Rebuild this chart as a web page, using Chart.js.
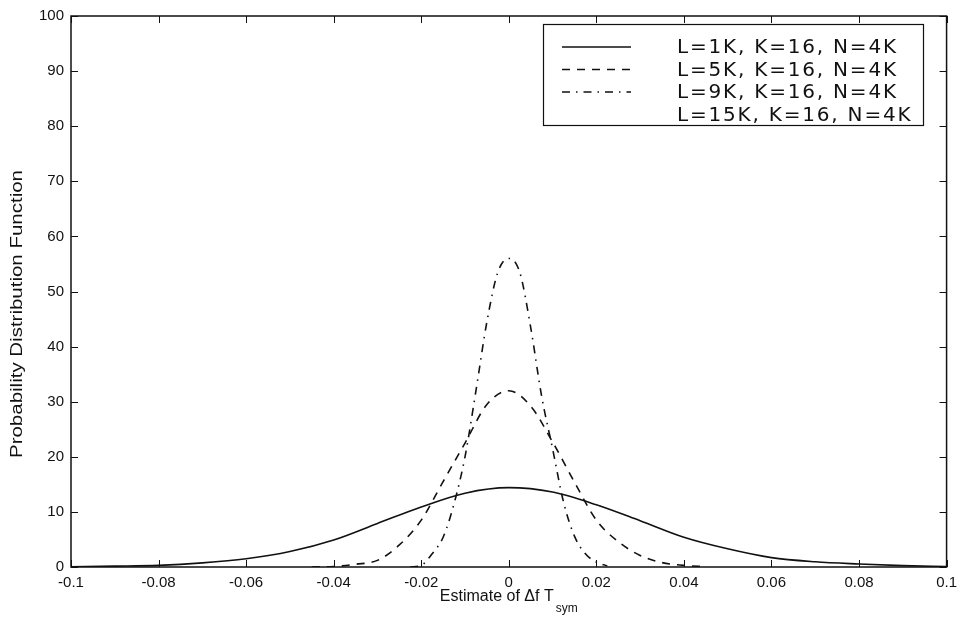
<!DOCTYPE html>
<html>
<head>
<meta charset="utf-8">
<script src="https://cdn.jsdelivr.net/npm/chart.js@4/dist/chart.umd.min.js"></script>
<style>
  html, body { margin: 0; padding: 0; background: #fff; }
  #wrap { width: 964px; height: 619px; }
</style>
</head>
<body>
<div id="wrap"><canvas id="c" width="964" height="619"></canvas></div>
<script>
// Series labels
const seriesLabels = [
  'L=1K, K=16, N=4K',
  'L=5K, K=16, N=4K',
  'L=9K, K=16, N=4K',
  'L=15K, K=16, N=4K'
];

// L=1K: estimate values and PDF
const xL1 = [-0.1, -0.09, -0.08, -0.07, -0.06, -0.05, -0.04, -0.03, -0.02, -0.01, 0,
             0.01, 0.02, 0.03, 0.04, 0.05, 0.06, 0.07, 0.08, 0.09, 0.1];
const yL1 = [0.05, 0.15, 0.3, 0.75, 1.5, 2.8, 4.9, 7.9, 10.9, 13.4, 14.4,
             13.6, 11.3, 8.4, 5.4, 3.3, 1.7, 0.95, 0.55, 0.25, 0.1];

// L=5K
const xL5 = [-0.045, -0.04, -0.035, -0.03, -0.025, -0.02, -0.015, -0.01, -0.005, 0,
             0.005, 0.01, 0.015, 0.02, 0.025, 0.03, 0.035, 0.04, 0.045];
const yL5 = [0.0, 0.1, 0.5, 1.2, 4.0, 8.5, 15.5, 22.5, 29.5, 32.0,
             29.2, 22.7, 15.4, 8.5, 4.6, 2.1, 0.8, 0.3, 0.05];

// L=9K
const xL9 = [-0.0225, -0.02, -0.0175, -0.015, -0.0125, -0.01, -0.0075, -0.005, -0.0025, 0,
             0.0025, 0.005, 0.0075, 0.01, 0.0125, 0.015, 0.0175, 0.02, 0.0225];
const yL9 = [0.0, 0.3, 2.4, 5.4, 11.5, 20.0, 32.0, 44.5, 53.5, 56.0,
             53.5, 43.5, 31.0, 21.5, 11.8, 5.6, 2.4, 0.9, 0.2];

// L=15K (no trace)
const xL15 = [];
const yL15 = [];

// Axis settings
const xMin = -0.1, xMax = 0.1, xStep = 0.02;
const yMin = 0, yMax = 100, yStep = 10;

const pts = (xs, ys) => xs.map((x, i) => ({ x: x, y: ys[i] }));

const INK = '#111';
const FONT = '"Liberation Sans", Arial, Helvetica, sans-serif';
const LEGEND_FONT = '"DejaVu Sans", "Liberation Sans", sans-serif';

// Frame, inward tick marks on all four sides, axis titles and legend box
const framePlugin = {
  id: 'frame',
  afterDraw(chart) {
    const ctx = chart.ctx;
    const a = chart.chartArea;
    const xs = chart.scales.x, ys = chart.scales.y;
    const tl = 7;
    ctx.save();
    ctx.strokeStyle = INK;
    ctx.lineWidth = 1.5;
    ctx.setLineDash([]);
    ctx.strokeRect(a.left, a.top, a.right - a.left, a.bottom - a.top);
    ctx.lineWidth = 1;
    ctx.beginPath();
    xs.ticks.forEach(t => {
      const px = Math.round(xs.getPixelForValue(t.value)) + 0.5;
      ctx.moveTo(px, a.bottom); ctx.lineTo(px, a.bottom - tl);
      ctx.moveTo(px, a.top); ctx.lineTo(px, a.top + tl);
    });
    ys.ticks.forEach(t => {
      const py = Math.round(ys.getPixelForValue(t.value)) + 0.5;
      ctx.moveTo(a.left, py); ctx.lineTo(a.left + tl, py);
      ctx.moveTo(a.right, py); ctx.lineTo(a.right - tl, py);
    });
    ctx.stroke();

    // x-axis title with subscript
    ctx.fillStyle = INK;
    ctx.textBaseline = 'middle';
    ctx.textAlign = 'left';
    const mainT = 'Estimate of \u0394f T';
    const subT = 'sym';
    ctx.font = '16px ' + FONT;
    const w1 = ctx.measureText(mainT).width;
    ctx.font = '12px ' + FONT;
    const w2 = ctx.measureText(subT).width;
    const cx = (a.left + a.right) / 2;
    const sx = cx - (w1 + 2 + w2) / 2;
    ctx.font = '16px ' + FONT;
    ctx.fillText(mainT, sx, 597);
    ctx.font = '12px ' + FONT;
    ctx.fillText(subT, sx + w1 + 2, 609);

    // y-axis title, rotated
    const yT = 'Probability Distribution Function';
    ctx.font = '16px ' + FONT;
    const wy = ctx.measureText(yT).width;
    const target = 288;
    ctx.save();
    ctx.translate(18, 314);
    ctx.rotate(-Math.PI / 2);
    ctx.scale(target / wy, 1);
    ctx.textAlign = 'center';
    ctx.fillText(yT, 0, 0);
    ctx.restore();

    // legend
    const box = { l: 543, t: 24, r: 923, b: 125 };
    ctx.lineWidth = 1.2;
    ctx.strokeStyle = INK;
    ctx.fillStyle = '#fff';
    ctx.fillRect(box.l, box.t, box.r - box.l, box.b - box.t);
    ctx.strokeRect(box.l + 0.5, box.t + 0.5, box.r - box.l, box.b - box.t);
    const rows = [47, 69.5, 92, 114.5];
    ctx.font = '20px ' + LEGEND_FONT;
    try { ctx.letterSpacing = '1.8px'; } catch (e) {}
    chart.data.datasets.forEach((ds, i) => {
      const y = rows[i];
      ctx.save();
      ctx.strokeStyle = ds.borderColor;
      ctx.lineWidth = ds.borderWidth;
      ctx.setLineDash(ds.borderDash || []);
      ctx.beginPath();
      ctx.moveTo(562, y); ctx.lineTo(631, y);
      ctx.stroke();
      ctx.restore();
      ctx.fillStyle = INK;
      ctx.textAlign = 'left';
      ctx.textBaseline = 'middle';
      ctx.fillText(ds.label, 677, y + 1);
    });
    ctx.restore();
  }
};

const lineDefaults = {
  fill: false,
  pointRadius: 0,
  pointHoverRadius: 0,
  cubicInterpolationMode: 'monotone',
  borderWidth: 1.6
};

new Chart(document.getElementById('c'), {
  type: 'line',
  data: {
    datasets: [
      Object.assign({ label: seriesLabels[0], data: pts(xL1, yL1), borderColor: INK, borderDash: [] }, lineDefaults),
      Object.assign({ label: seriesLabels[1], data: pts(xL5, yL5), borderColor: INK, borderDash: [8, 7] }, lineDefaults),
      Object.assign({ label: seriesLabels[2], data: pts(xL9, yL9), borderColor: INK, borderDash: [8, 6, 1.5, 6] }, lineDefaults),
      Object.assign({ label: seriesLabels[3], data: pts(xL15, yL15), borderColor: 'rgba(0,0,0,0)', borderDash: [1, 4] }, lineDefaults)
    ]
  },
  options: {
    responsive: false,
    animation: false,
    devicePixelRatio: 1,
    layout: { padding: { top: 11, right: 17, left: 0, bottom: 0 } },
    plugins: {
      legend: { display: false },
      tooltip: { enabled: false },
      title: { display: false }
    },
    scales: {
      x: {
        type: 'linear',
        min: xMin, max: xMax,
        grid: { display: false, drawTicks: false },
        border: { display: false },
        ticks: {
          stepSize: xStep,
          color: INK,
          padding: 7,
          maxRotation: 0,
          font: { family: FONT, size: 15 },
          callback: v => String(Number(v.toFixed(2)))
        },
        afterFit: s => { s.height = 52; }
      },
      y: {
        type: 'linear',
        min: yMin, max: yMax,
        grid: { display: false, drawTicks: false },
        border: { display: false },
        ticks: {
          stepSize: yStep,
          color: INK,
          padding: 7,
          font: { family: FONT, size: 15 }
        },
        afterFit: s => { s.width = 71; }
      }
    }
  },
  plugins: [framePlugin]
});
</script>
</body>
</html>
